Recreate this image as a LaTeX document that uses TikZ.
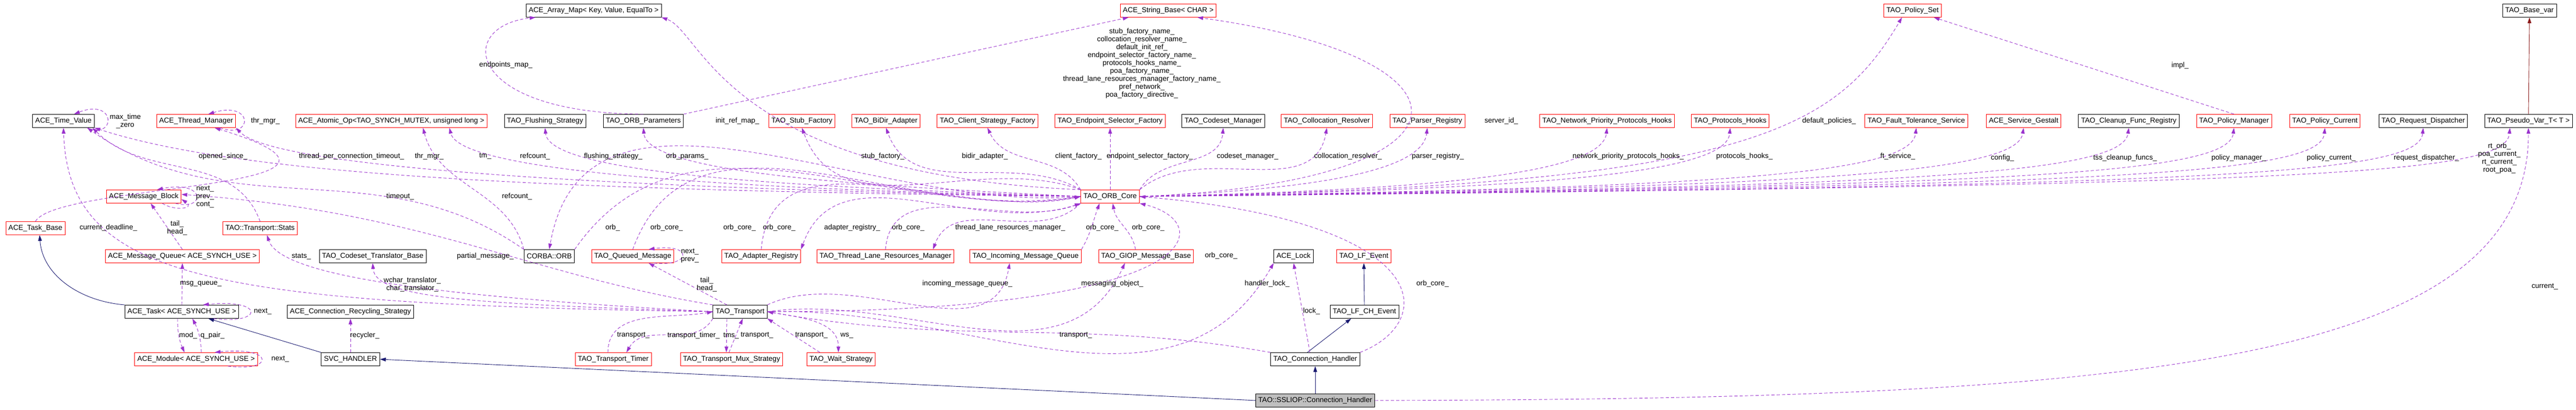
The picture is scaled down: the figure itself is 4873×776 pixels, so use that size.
\documentclass[tikz,border=0pt]{standalone}
\usepackage{fontspec}
\setmainfont{Liberation Sans}
\usetikzlibrary{arrows.meta, positioning, calc}
\definecolor{RefPurple}{RGB}{154, 50, 205}
\definecolor{InhBlue}{RGB}{25, 25, 112}
\definecolor{InhRed}{RGB}{139, 26, 26}
\definecolor{BoxGray}{RGB}{191, 191, 191}
\newcommand{\dfont}{\fontsize{1.36}{1.5}\selectfont}
\tikzset{
  cls/.style={draw=black, line width=0.09pt, minimum height=2.5pt, inner xsep=0.5pt, inner ysep=0.2pt, font=\dfont},
  rcls/.style={cls, draw=red},
  gcls/.style={cls, fill=BoxGray},
  lbl/.style={inner sep=0.1pt, align=center, font=\dfont},
  ref/.style={RefPurple, line width=0.09pt, dash pattern=on 0.6pt off 0.4pt, -{Triangle[length=1.1pt,width=0.7pt]}},
  inh/.style={InhBlue, line width=0.09pt, -{Triangle[length=1.1pt,width=0.7pt]}},
  inhr/.style={InhRed, line width=0.09pt, -{Triangle[length=1.1pt,width=0.7pt]}}
}
\begin{document}
\begin{tikzpicture}[x=0.1pt, y=0.1pt]
  \useasboundingbox (0,0) rectangle (4873,-776);

  % top row
  \node[cls]  (arraymap)   at (1123,-20) {ACE\_Array\_Map< Key, Value, EqualTo >};
  \node[rcls] (stringbase) at (2210,-20) {ACE\_String\_Base< CHAR >};
  \node[rcls] (policyset)  at (3618,-20) {TAO\_Policy\_Set};
  \node[cls]  (basevar)    at (4785,-20) {TAO\_Base\_var};

  % second row
  \node[cls]  (timevalue)   at (120,-229)  {ACE\_Time\_Value};
  \node[rcls] (thrmgr)      at (371,-229)  {ACE\_Thread\_Manager};
  \node[rcls] (atomicop)    at (740,-229)  {ACE\_Atomic\_Op<TAO\_SYNCH\_MUTEX, unsigned long >};
  \node[cls]  (flushing)    at (1031,-229) {TAO\_Flushing\_Strategy};
  \node[cls]  (orbparams)   at (1217,-229) {TAO\_ORB\_Parameters};
  \node[rcls] (stubfac)     at (1517,-229) {TAO\_Stub\_Factory};
  \node[rcls] (bidir)       at (1676,-229) {TAO\_BiDir\_Adapter};
  \node[rcls] (clientfac)   at (1868,-229) {TAO\_Client\_Strategy\_Factory};
  \node[rcls] (endpointfac) at (2100,-229) {TAO\_Endpoint\_Selector\_Factory};
  \node[cls]  (codesetmgr)  at (2314,-229) {TAO\_Codeset\_Manager};
  \node[rcls] (colloc)      at (2510,-229) {TAO\_Collocation\_Resolver};
  \node[rcls] (parser)      at (2700,-229) {TAO\_Parser\_Registry};
  \node[rcls] (netprio)     at (3040,-229) {TAO\_Network\_Priority\_Protocols\_Hooks};
  \node[rcls] (protohooks)  at (3273,-229) {TAO\_Protocols\_Hooks};
  \node[rcls] (ftservice)   at (3625,-229) {TAO\_Fault\_Tolerance\_Service};
  \node[rcls] (gestalt)     at (3828,-229) {ACE\_Service\_Gestalt};
  \node[cls]  (cleanup)     at (4027,-229) {TAO\_Cleanup\_Func\_Registry};
  \node[rcls] (policymgr)   at (4226,-229) {TAO\_Policy\_Manager};
  \node[rcls] (policycur)   at (4398,-229) {TAO\_Policy\_Current};
  \node[cls]  (reqdisp)     at (4584,-229) {TAO\_Request\_Dispatcher};
  \node[cls]  (pseudovar)   at (4783,-229) {TAO\_Pseudo\_Var\_T< T >};

  % middle rows
  \node[rcls] (msgblock) at (272,-372)  {ACE\_Message\_Block};
  \node[rcls] (core)     at (2100,-372) {TAO\_ORB\_Core};
  \node[rcls] (taskbase) at (67,-432)   {ACE\_Task\_Base};
  \node[rcls] (stats)    at (492,-432)  {TAO::Transport::Stats};

  \node[rcls] (msgqueue) at (345,-485)  {ACE\_Message\_Queue< ACE\_SYNCH\_USE >};
  \node[cls]  (cstrans)  at (705,-485)  {TAO\_Codeset\_Translator\_Base};
  \node[cls]  (corbaorb) at (1039,-485) {CORBA::ORB};
  \node[rcls] (queued)   at (1197,-485) {TAO\_Queued\_Message};
  \node[rcls] (adapter)  at (1440,-485) {TAO\_Adapter\_Registry};
  \node[rcls] (tlrm)     at (1675,-485) {TAO\_Thread\_Lane\_Resources\_Manager};
  \node[rcls] (incoming) at (1940,-485) {TAO\_Incoming\_Message\_Queue};
  \node[rcls] (giop)     at (2168,-485) {TAO\_GIOP\_Message\_Base};
  \node[cls]  (acelock)  at (2447,-485) {ACE\_Lock};
  \node[rcls] (lfevent)  at (2580,-485) {TAO\_LF\_Event};

  \node[cls] (acetask)   at (344,-590)  {ACE\_Task< ACE\_SYNCH\_USE >};
  \node[cls] (recycling) at (663,-590)  {ACE\_Connection\_Recycling\_Strategy};
  \node[cls] (transport) at (1400,-590) {TAO\_Transport};
  \node[cls] (lfch)      at (2581,-590) {TAO\_LF\_CH\_Event};

  % bottom rows
  \node[rcls] (module) at (371,-680)  {ACE\_Module< ACE\_SYNCH\_USE >};
  \node[cls]  (svc)    at (663,-680)  {SVC\_HANDLER};
  \node[rcls] (timer)  at (1160,-680) {TAO\_Transport\_Timer};
  \node[rcls] (mux)    at (1384,-680) {TAO\_Transport\_Mux\_Strategy};
  \node[rcls] (wait)   at (1591,-680) {TAO\_Wait\_Strategy};
  \node[cls]  (connh)  at (2488,-680) {TAO\_Connection\_Handler};
  \node[gcls] (sslh)   at (2488,-758) {TAO::SSLIOP::Connection\_Handler};

  % inheritance
  \draw[inh] (sslh.west) -- (svc.east);
  \draw[inh] (sslh.north) -- (connh.south);
  \draw[inh] ([shift={(-15,0)}]connh.north) -- ([shift={(-25,0)}]lfch.south);
  \draw[inh] (lfch.north) -- (lfevent.south);
  \draw[inh] (svc.north west) -- ([shift={(50,0)}]acetask.south);
  \draw[inh] (acetask.north west) .. controls (150,-570) and (80,-520) .. ([shift={(8,0)}]taskbase.south);
  \draw[inhr] (pseudovar.north) -- (basevar.south);

  % ORB core, upper left
  \draw[ref] (core.west) .. controls (1000,-360) and (450,-330) .. (timevalue.south east);
  \draw[ref] (core.west) .. controls (1200,-358) and (520,-320) .. (thrmgr.south east);
  \draw[ref] (core.west) .. controls (1300,-356) and (870,-320) .. ([shift={(110,0)}]atomicop.south);
  \draw[ref] (core.west) .. controls (1500,-354) and (1040,-330) .. (flushing.south);
  \draw[ref] (core.west) .. controls (1650,-352) and (1225,-330) .. (orbparams.south);
  \draw[ref] (core.north west) .. controls (1370,-330) and (1330,-60) .. (arraymap.south east);
  \draw[ref] (orbparams.north) .. controls (880,-215) and (860,-50) .. ([shift={(-110,0)}]arraymap.south);
  \draw[ref] (orbparams.north east) -- ([shift={(-75,0)}]stringbase.south);
  \draw[ref] (core.north west) to[out=160,in=-70] (stubfac.south);
  \draw[ref] (core.north west) to[out=150,in=-70] (bidir.south);
  \draw[ref] (core.north west) to[out=120,in=-65] (clientfac.south);
  \draw[ref] (core.north) -- (endpointfac.south);
  \draw[ref] (core.north east) to[out=60,in=-95] (codesetmgr.south);
  \draw[ref] (core.north east) to[out=40,in=-100] (colloc.south);

  % ORB core, upper right
  \draw[ref] (core.east) .. controls (2820,-345) and (2820,-110) .. ([shift={(55,0)}]stringbase.south);
  \draw[ref] (core.east) .. controls (2450,-360) and (2690,-330) .. (parser.south);
  \draw[ref] (core.east) .. controls (2700,-360) and (3030,-330) .. (netprio.south);
  \draw[ref] (core.east) .. controls (2900,-358) and (3265,-330) .. (protohooks.south);
  \draw[ref] (core.east) .. controls (3300,-352) and (3470,-250) .. ([shift={(-20,0)}]policyset.south);
  \draw[ref] (core.east) .. controls (3250,-356) and (3615,-330) .. (ftservice.south);
  \draw[ref] (core.east) .. controls (3400,-354) and (3815,-330) .. (gestalt.south);
  \draw[ref] (core.east) .. controls (3600,-354) and (4015,-330) .. (cleanup.south);
  \draw[ref] (core.east) .. controls (3800,-352) and (4215,-330) .. (policymgr.south);
  \draw[ref] (core.east) .. controls (4000,-352) and (4390,-330) .. (policycur.south);
  \draw[ref] (core.east) .. controls (4200,-352) and (4575,-330) .. (reqdisp.south);
  \draw[ref] (core.east) .. controls (4400,-350) and (4740,-330) .. ([shift={(-35,0)}]pseudovar.south);
  \draw[ref] (policymgr.north) -- ([shift={(40,0)}]policyset.south);
  \draw[ref] (sslh.east) .. controls (4000,-755) and (4783,-700) .. (pseudovar.south);

  % ORB core, lower
  \draw[ref] (core.west) to[out=185,in=80] (corbaorb.north);
  \draw[ref] (corbaorb.north east) to[out=55,in=188] (core.west);
  \draw[ref] (queued.north) to[out=70,in=190] (core.west);
  \draw[ref] (adapter.north) to[out=85,in=192] (core.west);
  \draw[ref] (core.south west) to[out=200,in=70] (adapter.north east);
  \draw[ref] (tlrm.north) to[out=85,in=200] (core.south west);
  \draw[ref] (core.south west) to[out=225,in=70] ([shift={(-40,0)}]tlrm.north east);
  \draw[ref] (incoming.north east) to[out=60,in=-110] ([shift={(-20,0)}]core.south);
  \draw[ref] ([shift={(-20,0)}]giop.north) to[out=100,in=-80] ([shift={(5,0)}]core.south);
  \draw[ref] (transport.east) .. controls (2300,-590) and (2300,-420) .. (core.south east);
  \draw[ref] (connh.north east) .. controls (2720,-610) and (2720,-420) .. (core.east);

  % time value, thread manager, atomic op
  \draw[ref] (corbaorb.north west) to[out=105,in=-75] ([shift={(60,0)}]atomicop.south);
  \draw[ref] (corbaorb.north west) to[out=145,in=-35] ([shift={(45,0)}]timevalue.south);
  \draw[ref] (stats.north) to[out=110,in=-45] ([shift={(55,0)}]timevalue.south);
  \draw[ref] (taskbase.north) .. controls (110,-345) and (790,-360) .. ([shift={(35,0)}]thrmgr.south);
  \draw[ref] (transport.west) .. controls (400,-575) and (130,-530) .. (timevalue.south);
  \draw[ref] ([shift={(45,0)}]timevalue.south) .. controls (220,-265) and (220,-185) .. ([shift={(20,0)}]timevalue.north);
  \draw[ref] ([shift={(45,0)}]thrmgr.south) .. controls (480,-265) and (480,-190) .. ([shift={(23,0)}]thrmgr.north);

  % message block and queue
  \draw[ref] ([shift={(60,0)}]msgblock.south) .. controls (390,-400) and (390,-340) .. ([shift={(25,0)}]msgblock.north);
  \draw[ref] ([shift={(35,0)}]msgblock.south) .. controls (330,-400) and (370,-395) .. ([shift={(0,-5)}]msgblock.east);
  \draw[ref] (msgqueue.north) -- ([shift={(13,0)}]msgblock.south);
  \draw[ref] (transport.north west) .. controls (1000,-520) and (800,-400) .. ([shift={(0,4)}]msgblock.east);

  % task and module
  \draw[ref] (acetask.north) -- (msgqueue.south);
  \draw[ref] ([shift={(-8,0)}]acetask.south) to[bend right=12] ([shift={(-22,0)}]module.north);
  \draw[ref] ([shift={(10,0)}]module.north) to[bend right=12] ([shift={(20,0)}]acetask.south);
  \draw[ref] ([shift={(60,0)}]acetask.south) .. controls (500,-615) and (500,-565) .. ([shift={(40,0)}]acetask.north);
  \draw[ref] ([shift={(60,0)}]module.south) .. controls (520,-705) and (520,-655) .. ([shift={(35,0)}]module.north);
  \draw[ref] (svc.north) -- (recycling.south);

  % transport
  \draw[ref] (transport.west) .. controls (800,-560) and (530,-520) .. ([shift={(13,0)}]stats.south);
  \draw[ref] (transport.west) .. controls (900,-575) and (710,-565) .. (cstrans.south);
  \draw[ref] ([shift={(-25,0)}]transport.north) -- ([shift={(30,0)}]queued.south);
  \draw[ref] ([shift={(40,0)}]queued.south) .. controls (1310,-505) and (1310,-460) .. ([shift={(30,0)}]queued.north);
  \draw[ref] (transport.south west) to[out=-120,in=60] ([shift={(25,0)}]timer.north);
  \draw[ref] ([shift={(-10,0)}]timer.north) to[out=90,in=190] (transport.west);
  \draw[ref] ([shift={(-25,0)}]transport.south) -- ([shift={(-10,0)}]mux.north);
  \draw[ref] ([shift={(-5,0)}]mux.north) -- ([shift={(5,0)}]transport.south);
  \draw[ref] ([shift={(-40,0)}]wait.north) -- (transport.south east);
  \draw[ref] (transport.east) to[out=-10,in=90] ([shift={(-5,0)}]wait.north);
  \draw[ref] (transport.north east) to[out=25,in=-100] ([shift={(-30,0)}]incoming.south);
  \draw[ref] (transport.east) to[out=8,in=-115] ([shift={(-40,0)}]giop.south);
  \draw[ref] (transport.east) to[out=2,in=-120] (acelock.south west);
  \draw[ref] ([shift={(-10,0)}]connh.north) -- (acelock.south);
  \draw[ref] (connh.north west) to[out=170,in=-10] (transport.east);

  % labels
  \node[lbl] (lmax)    at (237,-229) {max\_time\\\_zero};
  \node[lbl] (lthr1)   at (502,-229) {thr\_mgr\_};
  \node[lbl] (lopen)   at (422,-296) {opened\_since\_};
  \node[lbl] (ltpct)   at (665,-296) {thread\_per\_connection\_timeout\_};
  \node[lbl] (lthr2)   at (812,-296) {thr\_mgr\_};
  \node[lbl] (ltm)     at (918,-296) {tm\_};
  \node[lbl] (lref1)   at (1012,-296) {refcount\_};
  \node[lbl] (lflush)  at (1160,-296) {flushing\_strategy\_};
  \node[lbl] (lparams) at (1300,-296) {orb\_params\_};
  \node[lbl] (lendmap) at (957,-123) {endpoints\_map\_};
  \node[lbl] (linit)   at (1395,-229) {init\_ref\_map\_};
  \node[lbl] (lnames) at (2160,-120) {stub\_factory\_name\_\\collocation\_resolver\_name\_\\default\_init\_ref\_\\endpoint\_selector\_factory\_name\_\\protocols\_hooks\_name\_\\poa\_factory\_name\_\\thread\_lane\_resources\_manager\_factory\_name\_\\pref\_network\_\\poa\_factory\_directive\_};
  \node[lbl] (lstub)   at (1670,-296) {stub\_factory\_};
  \node[lbl] (lbidir)  at (1863,-296) {bidir\_adapter\_};
  \node[lbl] (lclient) at (2040,-296) {client\_factory\_};
  \node[lbl] (lendsel) at (2175,-296) {endpoint\_selector\_factory\_};
  \node[lbl] (lcodes)  at (2360,-296) {codeset\_manager\_};
  \node[lbl] (lcoll)   at (2550,-296) {collocation\_resolver\_};
  \node[lbl] (lparser) at (2720,-296) {parser\_registry\_};
  \node[lbl] (lserver) at (2840,-229) {server\_id\_};
  \node[lbl] (lnetp)   at (3080,-296) {network\_priority\_protocols\_hooks\_};
  \node[lbl] (lproto)  at (3300,-296) {protocols\_hooks\_};
  \node[lbl] (ldefpol) at (3460,-229) {default\_policies\_};
  \node[lbl] (lft)     at (3590,-296) {ft\_service\_};
  \node[lbl] (lconfig) at (3788,-299) {config\_};
  \node[lbl] (ltss)    at (4020,-299) {tss\_cleanup\_funcs\_};
  \node[lbl] (lpmgr)   at (4235,-299) {policy\_manager\_};
  \node[lbl] (lpcur)   at (4410,-299) {policy\_current\_};
  \node[lbl] (lreqd)   at (4590,-299) {request\_dispatcher\_};
  \node[lbl] (lpseudo) at (4728,-300) {rt\_orb\_\\poa\_current\_\\rt\_current\_\\root\_poa\_};
  \node[lbl] (limpl)   at (4124,-124) {impl\_};
  \node[lbl, anchor=west] (lcurrent) at (4786,-542) {current\_};

  \node[lbl] (lblk)    at (388,-372) {next\_\\prev\_\\cont\_};
  \node[lbl] (ltimeout) at (757,-372) {timeout\_};
  \node[lbl] (lref2)   at (978,-372) {refcount\_};
  \node[lbl] (ldead)   at (205,-431) {current\_deadline\_};
  \node[lbl] (lqueue1) at (335,-431) {tail\_\\head\_};
  \node[lbl] (lorb)    at (1159,-431) {orb\_};
  \node[lbl] (loc1)    at (1261,-431) {orb\_core\_};
  \node[lbl] (loc2)    at (1399,-431) {orb\_core\_};
  \node[lbl] (loc3)    at (1474,-431) {orb\_core\_};
  \node[lbl] (ladreg)  at (1612,-431) {adapter\_registry\_};
  \node[lbl] (loc4)    at (1718,-431) {orb\_core\_};
  \node[lbl] (ltlrm)   at (1911,-431) {thread\_lane\_resources\_manager\_};
  \node[lbl] (loc5)    at (2085,-431) {orb\_core\_};
  \node[lbl] (loc6)    at (2172,-431) {orb\_core\_};
  \node[lbl] (loc7)    at (2310,-484) {orb\_core\_};
  \node[lbl] (loc8)    at (2710,-537) {orb\_core\_};
  \node[lbl] (lqnp)    at (1305,-484) {next\_\\prev\_};
  \node[lbl] (lstats)  at (570,-485) {stats\_};
  \node[lbl] (lpartial) at (918,-485) {partial\_message\_};
  \node[lbl] (ltrans)  at (780,-538) {wchar\_translator\_\\char\_translator\_};
  \node[lbl] (lqueue2) at (1337,-538) {tail\_\\head\_};
  \node[lbl] (lmsgq)   at (380,-537) {msg\_queue\_};
  \node[lbl] (linc)    at (1830,-537) {incoming\_message\_queue\_};
  \node[lbl] (lmsgobj) at (2104,-537) {messaging\_object\_};
  \node[lbl] (lhlock)  at (2397,-537) {handler\_lock\_};
  \node[lbl] (llock)   at (2481,-589) {lock\_};
  \node[lbl] (ltnext)  at (497,-590) {next\_};
  \node[lbl] (lmod)    at (356,-635) {mod\_};
  \node[lbl] (lqpair)  at (402,-635) {q\_pair\_};
  \node[lbl] (lrecyc)  at (690,-635) {recycler\_};
  \node[lbl] (lttrans) at (1198,-635) {transport\_};
  \node[lbl] (ltimer)  at (1312,-635) {transport\_timer\_};
  \node[lbl] (ltms)    at (1383,-635) {tms\_};
  \node[lbl] (lmtrans) at (1432,-635) {transport\_};
  \node[lbl] (lwtrans) at (1535,-635) {transport\_};
  \node[lbl] (lws)     at (1602,-635) {ws\_};
  \node[lbl] (lchtrans) at (2035,-635) {transport\_};
  \node[lbl] (lmnext)  at (530,-680) {next\_};
\end{tikzpicture}
\end{document}
